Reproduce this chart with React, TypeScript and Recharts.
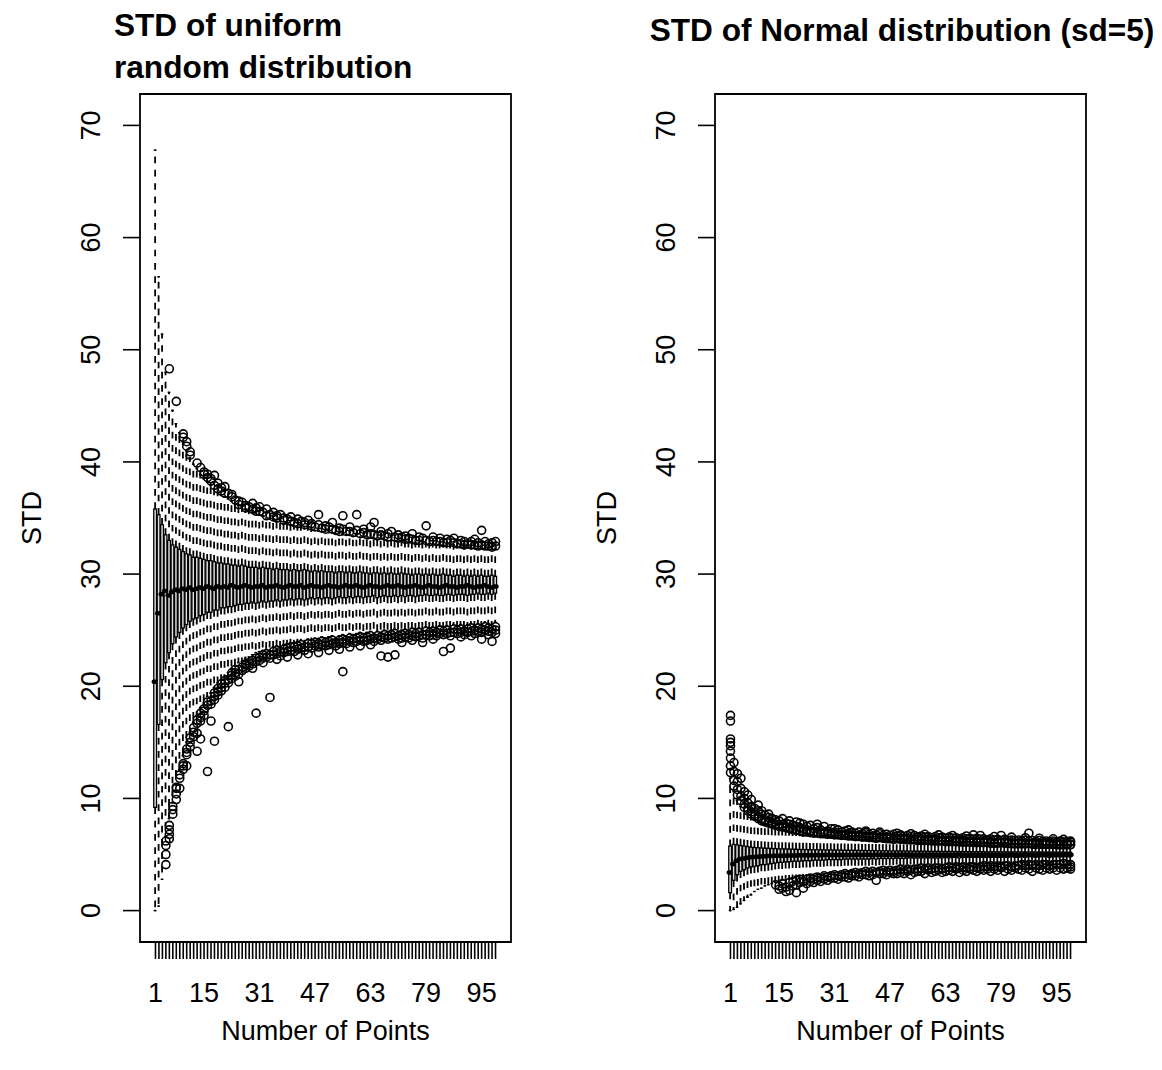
import React from "react";
import { ComposedChart, Bar, Scatter, XAxis, YAxis, ReferenceArea } from "recharts";

const FONT = '"Liberation Sans", Arial, Helvetica, sans-serif';

// Box positions ("Number of Points" categories 1..99)
const positions: number[] = Array.from({ length: 99 }, (_, i) => i + 1);
const xLabels: number[] = [1, 15, 31, 47, 63, 79, 95];
const yTicks: number[] = [0, 10, 20, 30, 40, 50, 60, 70];

// ---------- Uniform panel ----------
const uniLo: number[] = [
  0.0, 0.4, 2.8, 6.6, 8.2, 9.6, 11.2, 12.6, 13.8, 15.0,
  15.9, 16.8, 17.4, 18.1, 18.5, 19.1, 19.4, 19.9, 20.3, 20.6,
  20.9, 21.2, 21.6, 21.8, 22.1, 22.2, 22.5, 22.6, 22.8, 23.0,
  23.1, 23.2, 23.3, 23.2, 23.5, 23.6, 23.5, 23.7, 23.8, 23.9,
  23.9, 24.0, 24.1, 23.9, 24.2, 24.1, 24.3, 24.2, 24.4, 24.3,
  24.4, 24.5, 24.3, 24.5, 24.6, 24.5, 24.7, 24.6, 24.7, 24.8,
  24.7, 24.8, 24.9, 24.7, 24.9, 24.8, 25.0, 24.9, 25.0, 25.1,
  24.9, 25.0, 25.1, 25.0, 25.2, 25.1, 25.2, 25.0, 25.3, 25.2,
  25.3, 25.2, 25.4, 25.3, 25.4, 25.2, 25.5, 25.4, 25.5, 25.3,
  25.5, 25.6, 25.4, 25.6, 25.5, 25.7, 25.6, 25.5, 25.7,
];
const uniQ1: number[] = [
  9.2, 16.6, 20.6, 22.1, 23.0, 23.8, 24.4, 24.8, 25.2, 25.5,
  25.8, 26.0, 26.1, 26.3, 26.4, 26.6, 26.6, 26.8, 26.8, 27.0,
  27.0, 27.1, 27.1, 27.2, 27.3, 27.3, 27.4, 27.4, 27.5, 27.4,
  27.5, 27.6, 27.5, 27.6, 27.6, 27.7, 27.6, 27.7, 27.7, 27.8,
  27.7, 27.8, 27.8, 27.7, 27.8, 27.9, 27.8, 27.9, 27.8, 27.9,
  27.9, 27.8, 27.9, 28.0, 27.9, 27.9, 28.0, 27.9, 28.0, 28.0,
  27.9, 28.0, 28.0, 28.1, 27.9, 28.0, 28.1, 28.0, 28.0, 28.1,
  28.0, 28.1, 28.0, 28.1, 28.1, 28.0, 28.1, 28.1, 28.2, 28.1,
  28.1, 28.2, 28.1, 28.1, 28.2, 28.2, 28.1, 28.2, 28.2, 28.2,
  28.1, 28.2, 28.2, 28.3, 28.2, 28.2, 28.3, 28.2, 28.3,
];
const uniMed: number[] = [
  20.4, 26.5, 28.2, 28.5, 28.1, 28.4, 28.6, 28.5, 28.7, 28.6,
  28.8, 28.6, 28.7, 28.8, 28.7, 28.9, 28.8, 28.7, 28.9, 28.8,
  28.9, 28.8, 29.0, 28.9, 28.8, 28.9, 29.0, 28.9, 28.8, 28.9,
  28.9, 29.0, 28.8, 28.9, 28.9, 29.0, 28.9, 28.8, 28.9, 29.0,
  28.9, 28.9, 29.0, 28.8, 28.9, 29.0, 28.9, 28.9, 28.8, 28.9,
  29.0, 28.9, 28.9, 28.8, 28.9, 29.0, 28.9, 28.9, 29.0, 28.9,
  28.8, 28.9, 29.0, 28.9, 28.9, 28.8, 28.9, 29.0, 28.9, 28.9,
  29.0, 28.9, 28.8, 28.9, 28.9, 29.0, 28.9, 28.8, 28.9, 29.0,
  28.9, 28.9, 28.8, 28.9, 29.0, 28.9, 28.9, 28.8, 28.9, 28.9,
  29.0, 28.9, 28.8, 28.9, 28.9, 29.0, 28.9, 28.8, 28.9,
];
const uniQ3: number[] = [
  35.8, 35.3, 34.4, 33.5, 33.0, 32.6, 32.4, 32.2, 32.0, 31.8,
  31.7, 31.5, 31.5, 31.4, 31.3, 31.2, 31.2, 31.1, 31.0, 31.0,
  30.9, 30.9, 30.8, 30.8, 30.7, 30.8, 30.7, 30.6, 30.6, 30.6,
  30.5, 30.6, 30.5, 30.5, 30.4, 30.5, 30.4, 30.4, 30.4, 30.3,
  30.4, 30.3, 30.3, 30.4, 30.3, 30.2, 30.3, 30.2, 30.3, 30.2,
  30.2, 30.2, 30.1, 30.2, 30.2, 30.1, 30.2, 30.1, 30.1, 30.2,
  30.1, 30.1, 30.0, 30.1, 30.1, 30.0, 30.1, 30.0, 30.1, 30.0,
  30.0, 30.1, 30.0, 30.0, 29.9, 30.0, 30.0, 29.9, 30.0, 29.9,
  30.0, 29.9, 29.9, 30.0, 29.9, 29.9, 29.8, 29.9, 29.9, 29.8,
  29.9, 29.8, 29.9, 29.8, 29.9, 29.8, 29.8, 29.9, 29.8,
];
const uniHi: number[] = [
  67.8, 56.5, 51.4, 48.0, 46.2, 44.6, 43.4, 42.6, 41.8, 41.0,
  40.4, 39.8, 39.4, 38.9, 38.5, 38.2, 37.9, 37.6, 37.3, 37.1,
  36.9, 36.7, 36.5, 36.3, 36.1, 36.0, 35.8, 35.6, 35.5, 35.4,
  35.3, 35.2, 35.0, 34.9, 34.9, 34.7, 34.7, 34.5, 34.5, 34.4,
  34.3, 34.3, 34.2, 34.1, 34.1, 34.0, 33.9, 33.9, 33.8, 33.8,
  33.7, 33.7, 33.6, 33.6, 33.5, 33.5, 33.5, 33.4, 33.4, 33.3,
  33.3, 33.3, 33.2, 33.2, 33.1, 33.2, 33.1, 33.0, 33.0, 33.0,
  32.9, 33.0, 32.9, 32.8, 32.9, 32.8, 32.8, 32.7, 32.8, 32.7,
  32.7, 32.6, 32.7, 32.6, 32.6, 32.5, 32.6, 32.5, 32.5, 32.4,
  32.5, 32.4, 32.4, 32.3, 32.4, 32.3, 32.3, 32.2, 32.3,
];
const uniUpOut: number[][] = [
  [], [], [], [], [48.3], [], [45.4], [], [42.5, 42.2], [41.8, 41.4],
  [40.9, 40.6], [], [39.9], [39.5], [38.9, 39.1], [38.6, 38.9], [38.5, 38.3], [38.8, 37.9], [37.6, 38.1], [37.7, 37.4],
  [37.8, 37.2], [37.2], [36.9, 37.1], [36.6], [36.2, 36.5], [36.4], [35.9, 36.1], [36.0], [35.8, 36.3], [35.9, 35.6],
  [35.6, 36.0], [35.5], [35.2, 35.8], [35.3], [35.1, 35.5], [35.0, 35.2], [35.3], [34.8, 35.0], [34.9], [34.7, 35.1],
  [34.6], [34.5, 34.9], [34.7], [34.4, 34.6], [34.8], [34.3, 34.5], [34.2], [34.4, 35.3], [34.1], [34.0, 34.3],
  [34.2], [34.0, 34.6], [33.9], [34.1, 33.8], [35.2, 34.0], [33.8], [33.8, 34.2], [33.7], [35.3, 33.9], [33.6],
  [33.7, 34.0], [33.5], [33.6, 34.2], [34.6, 33.5], [33.4], [33.5, 33.8], [33.4], [33.3, 33.6], [33.8], [33.3],
  [33.2, 33.5], [33.3], [33.1, 33.4], [33.2], [33.1, 33.6], [33.0], [33.0, 33.3], [33.2], [33.0, 34.3], [32.9],
  [33.0, 33.3], [32.9], [32.9, 33.2], [32.8], [32.8, 33.1], [33.0], [32.8, 33.2], [32.7], [32.7, 33.0], [32.6, 32.9],
  [32.7], [32.6, 32.9], [32.6, 33.1], [32.5, 32.8], [32.6, 33.9], [32.5, 32.9], [32.5, 32.7], [32.4, 32.8], [32.5, 32.9],
];
const uniLoOut: number[][] = [
  [], [], [], [5.8, 5.0, 4.1, 6.2], [6.8, 7.2, 6.4, 7.6], [9.0, 8.6, 9.3], [10.4, 10.9, 9.9, 11.0], [11.8, 12.1, 10.9], [12.9, 13.1, 12.6], [13.9, 14.4, 14.1, 12.9],
  [15.0, 15.4, 14.6], [15.9, 16.3, 15.5], [16.7, 17.0, 15.8, 14.2], [17.2, 17.6, 16.9, 15.3], [17.8, 17.4, 18.0], [18.3, 18.6, 12.4], [18.7, 18.4, 16.9], [19.1, 18.8, 19.4, 15.1], [19.5, 19.8, 19.2], [19.9, 20.2, 19.6],
  [20.3, 20.5, 19.9], [20.6, 20.3, 16.4], [21.0, 20.7, 21.2], [21.2, 20.9, 21.5], [21.5, 21.1, 20.4], [21.7, 21.4], [22.0, 21.6, 21.9], [22.1, 21.8], [22.3, 22.0, 21.6], [22.5, 22.2, 17.6],
  [22.6, 22.3], [22.8, 22.5, 22.1], [22.9, 22.6], [22.8, 19.0, 22.5], [23.1, 22.8], [23.2, 22.9, 22.4], [23.1, 22.7], [23.3, 23.0], [23.4, 23.1, 22.6], [23.5, 23.2],
  [23.5, 23.1], [23.6, 23.3, 22.8], [23.7, 23.4], [23.5, 23.2], [23.8, 23.5, 22.9], [23.8, 23.4], [23.9, 23.6], [23.8, 23.5, 23.0], [24.0, 23.7], [23.9, 23.6],
  [24.0, 23.7, 23.2], [24.1, 23.8], [23.9, 23.6], [24.1, 23.8, 23.3], [24.2, 21.3, 23.9], [24.1, 23.8], [24.3, 24.0, 23.5], [24.2, 23.9], [24.3, 24.0], [24.4, 24.1, 23.6],
  [24.3, 24.0], [24.4, 24.1], [24.5, 24.2, 23.7], [24.3, 24.0], [24.5, 24.2], [24.4, 24.1, 22.7], [24.6, 24.3], [24.5, 24.2, 22.6], [24.6, 24.3], [24.7, 24.4, 22.8],
  [24.5, 24.2], [24.6, 24.3, 23.9], [24.7, 24.4], [24.6, 24.3], [24.8, 24.5, 24.1], [24.7, 24.4], [24.8, 24.5], [24.6, 24.3, 23.9], [24.9, 24.6], [24.8, 24.5],
  [24.9, 24.6, 24.2], [24.8, 24.5], [25.0, 24.7], [24.9, 24.6, 23.1], [25.0, 24.7], [24.8, 24.5, 23.4], [25.1, 24.8], [25.0, 24.7], [25.1, 24.8, 24.4], [24.9, 24.6],
  [25.1, 24.8], [25.2, 24.9, 24.5], [25.0, 24.7], [25.2, 24.9], [25.1, 24.8, 24.2], [25.3, 25.0], [25.2, 24.9, 24.6], [25.1, 24.8, 24.0], [25.3, 25.0, 24.7],
];

// ---------- Normal (sd=5) panel ----------
const normLo: number[] = [
  0.0, 0.1, 0.3, 0.6, 0.9, 1.2, 1.4, 1.7, 1.9, 2.0,
  2.2, 2.3, 2.4, 2.5, 2.6, 2.7, 2.7, 2.8, 2.9, 2.9,
  3.0, 3.0, 3.1, 3.1, 3.1, 3.2, 3.2, 3.3, 3.3, 3.3,
  3.4, 3.4, 3.4, 3.4, 3.5, 3.5, 3.5, 3.5, 3.6, 3.6,
  3.6, 3.6, 3.6, 3.7, 3.7, 3.7, 3.7, 3.7, 3.8, 3.8,
  3.8, 3.8, 3.8, 3.8, 3.8, 3.9, 3.9, 3.9, 3.9, 3.9,
  3.9, 3.9, 3.9, 4.0, 3.9, 4.0, 4.0, 4.0, 4.0, 4.0,
  4.0, 4.0, 4.0, 4.1, 4.0, 4.1, 4.1, 4.1, 4.1, 4.1,
  4.1, 4.1, 4.1, 4.1, 4.2, 4.1, 4.2, 4.1, 4.2, 4.2,
  4.2, 4.2, 4.2, 4.2, 4.2, 4.2, 4.3, 4.2, 4.2,
];
const normQ1: number[] = [
  1.6, 2.7, 3.2, 3.5, 3.65, 3.8, 3.9, 3.95, 4.0, 4.1,
  4.1, 4.15, 4.2, 4.25, 4.3, 4.3, 4.35, 4.35, 4.4, 4.4,
  4.4, 4.45, 4.45, 4.45, 4.5, 4.5, 4.5, 4.5, 4.55, 4.55,
  4.55, 4.55, 4.55, 4.6, 4.6, 4.6, 4.6, 4.6, 4.6, 4.6,
  4.6, 4.65, 4.6, 4.65, 4.65, 4.65, 4.65, 4.65, 4.7, 4.65,
  4.65, 4.7, 4.7, 4.7, 4.7, 4.7, 4.7, 4.7, 4.7, 4.7,
  4.7, 4.7, 4.75, 4.7, 4.75, 4.75, 4.7, 4.75, 4.75, 4.75,
  4.75, 4.75, 4.75, 4.75, 4.75, 4.75, 4.75, 4.75, 4.75, 4.75,
  4.75, 4.8, 4.75, 4.75, 4.8, 4.75, 4.8, 4.8, 4.75, 4.8,
  4.8, 4.8, 4.75, 4.8, 4.8, 4.8, 4.8, 4.8, 4.8,
];
const normMed: number[] = [
  3.4, 4.15, 4.45, 4.6, 4.65, 4.7, 4.75, 4.78, 4.8, 4.83,
  4.84, 4.86, 4.87, 4.88, 4.88, 4.9, 4.9, 4.91, 4.92, 4.92,
  4.93, 4.93, 4.94, 4.94, 4.94, 4.95, 4.94, 4.95, 4.95, 4.95,
  4.95, 4.96, 4.96, 4.95, 4.96, 4.96, 4.96, 4.97, 4.96, 4.97,
  4.97, 4.96, 4.97, 4.97, 4.97, 4.97, 4.98, 4.97, 4.97, 4.98,
  4.97, 4.98, 4.98, 4.97, 4.98, 4.98, 4.97, 4.98, 4.98, 4.98,
  4.97, 4.98, 4.98, 4.98, 4.97, 4.98, 4.99, 4.98, 4.98, 4.98,
  4.98, 4.97, 4.98, 4.98, 4.99, 4.98, 4.98, 4.98, 4.97, 4.98,
  4.98, 4.99, 4.98, 4.98, 4.98, 4.99, 4.98, 4.98, 4.98, 4.99,
  4.98, 4.98, 4.99, 4.98, 4.98, 4.99, 4.98, 4.98, 4.98,
];
const normQ3: number[] = [
  5.75, 5.9, 5.85, 5.8, 5.75, 5.7, 5.65, 5.62, 5.6, 5.58,
  5.56, 5.55, 5.53, 5.52, 5.5, 5.5, 5.49, 5.48, 5.47, 5.46,
  5.45, 5.44, 5.44, 5.43, 5.42, 5.42, 5.41, 5.41, 5.4, 5.4,
  5.39, 5.39, 5.38, 5.38, 5.37, 5.37, 5.36, 5.36, 5.35, 5.35,
  5.35, 5.34, 5.34, 5.33, 5.33, 5.33, 5.32, 5.32, 5.31, 5.31,
  5.31, 5.3, 5.3, 5.3, 5.29, 5.29, 5.29, 5.28, 5.28, 5.28,
  5.28, 5.27, 5.27, 5.27, 5.27, 5.26, 5.26, 5.26, 5.26, 5.25,
  5.25, 5.25, 5.25, 5.25, 5.24, 5.24, 5.24, 5.24, 5.24, 5.23,
  5.23, 5.23, 5.23, 5.23, 5.23, 5.22, 5.22, 5.22, 5.22, 5.22,
  5.22, 5.21, 5.21, 5.21, 5.21, 5.21, 5.21, 5.2, 5.2,
];
const normHi: number[] = [
  11.8, 10.6, 9.8, 9.3, 8.9, 8.6, 8.3, 8.1, 7.9, 7.8,
  7.7, 7.6, 7.5, 7.4, 7.3, 7.25, 7.2, 7.1, 7.05, 7.0,
  6.95, 6.9, 6.9, 6.85, 6.8, 6.8, 6.75, 6.75, 6.7, 6.7,
  6.65, 6.65, 6.6, 6.6, 6.55, 6.55, 6.5, 6.5, 6.5, 6.45,
  6.45, 6.4, 6.4, 6.4, 6.35, 6.35, 6.35, 6.3, 6.3, 6.3,
  6.3, 6.25, 6.25, 6.25, 6.2, 6.2, 6.2, 6.2, 6.15, 6.15,
  6.15, 6.15, 6.1, 6.1, 6.1, 6.1, 6.05, 6.05, 6.05, 6.05,
  6.0, 6.0, 6.0, 6.0, 6.0, 5.95, 5.95, 5.95, 5.95, 5.95,
  5.95, 5.9, 5.9, 5.9, 5.9, 5.9, 5.9, 5.85, 5.85, 5.85,
  5.85, 5.85, 5.85, 5.85, 5.8, 5.8, 5.8, 5.8, 5.8,
];
const normUpOut: number[][] = [
  [17.4, 16.9, 15.3, 15.0, 14.7, 14.2, 13.6, 12.9, 12.3], [13.2, 12.4, 11.6, 11.1], [12.2, 11.5, 10.8, 10.3], [11.8, 10.9, 10.2, 9.8], [10.6, 10.0, 9.5, 9.2],
  [10.3, 9.6, 9.1, 8.9], [9.9, 9.3, 8.8, 8.6], [9.1, 8.6, 8.4], [8.9, 8.4, 8.2, 9.4], [8.6, 8.2, 8.0, 8.9],
  [8.5, 8.1, 7.9], [8.6, 8.0, 7.8, 8.3], [8.2, 7.8, 7.7], [8.1, 7.7, 7.6, 7.9], [8.0, 7.6, 7.5],
  [8.2, 7.7, 7.45, 7.5], [7.8, 7.5, 7.4], [7.7, 7.4, 7.3, 8.0], [7.6, 7.3, 7.2], [7.9, 7.5, 7.2, 7.15],
  [7.4, 7.1, 7.8], [7.7, 7.3, 7.05, 7.0], [7.5, 7.2, 7.0], [7.6, 7.1, 6.95], [7.3, 7.0, 6.9],
  [7.4, 7.0, 6.9, 7.7], [7.2, 6.95, 6.85], [7.5, 7.0, 6.85], [7.1, 6.9, 6.8], [7.3, 6.95, 6.8],
  [7.0, 6.8, 6.75, 7.3], [7.2, 6.85, 6.75], [7.0, 6.75, 6.7], [7.1, 6.8, 6.7], [6.9, 6.7, 6.65, 7.2],
  [7.0, 6.75, 6.65], [6.9, 6.6, 6.6], [7.0, 6.7, 6.6], [6.85, 6.6, 6.55], [6.95, 6.65, 6.55, 7.1],
  [6.8, 6.6, 6.5], [6.9, 6.6, 6.5], [6.75, 6.5, 6.45], [6.85, 6.55, 6.5, 7.0], [6.7, 6.5, 6.45],
  [6.8, 6.55, 6.4], [6.7, 6.45, 6.4], [6.8, 6.5, 6.35], [6.65, 6.45, 6.4, 6.9], [6.75, 6.45, 6.35],
  [6.6, 6.4, 6.35], [6.7, 6.45, 6.3], [6.6, 6.35, 6.3, 6.85], [6.7, 6.4, 6.3], [6.55, 6.35, 6.25],
  [6.65, 6.4, 6.25], [6.55, 6.3, 6.25, 6.8], [6.6, 6.35, 6.25], [6.5, 6.3, 6.2], [6.6, 6.35, 6.2],
  [6.5, 6.25, 6.2, 6.75], [6.55, 6.3, 6.2], [6.45, 6.25, 6.15], [6.55, 6.3, 6.15], [6.45, 6.2, 6.15, 6.7],
  [6.5, 6.25, 6.15], [6.4, 6.2, 6.1], [6.5, 6.25, 6.1], [6.4, 6.15, 6.1, 6.65], [6.45, 6.2, 6.1],
  [6.35, 6.15, 6.05, 6.75], [6.45, 6.2, 6.05], [6.35, 6.1, 6.05, 6.7], [6.4, 6.15, 6.05], [6.3, 6.1, 6.05],
  [6.4, 6.15, 6.0], [6.3, 6.05, 6.0, 6.6], [6.35, 6.1, 6.0], [6.7, 6.25, 6.05], [6.35, 6.1, 6.0],
  [6.25, 6.05, 6.0], [6.3, 6.05, 5.95, 6.55], [6.25, 6.0, 5.95], [6.3, 6.05, 5.95], [6.2, 6.0, 5.95],
  [6.3, 6.05, 5.95, 6.5], [6.9, 6.2, 6.0], [6.25, 6.0, 5.9], [6.15, 5.95, 5.9], [6.25, 6.0, 5.9, 6.45],
  [6.15, 5.95, 5.9], [6.2, 6.0, 5.9], [6.15, 5.95, 5.9], [6.2, 6.0, 5.9, 6.4], [6.1, 5.9, 5.85],
  [6.2, 5.95, 5.85], [6.1, 5.9, 5.85, 6.35], [6.15, 5.95, 5.85], [6.1, 5.9, 5.85, 6.2],
];
const normLoOut: number[][] = [
  [], [], [], [], [], [], [], [], [], [],
  [], [], [], [2.3], [2.2, 1.9], [2.4, 2.0], [2.1, 1.7], [2.5, 1.8], [2.6, 2.2], [2.7, 2.3, 1.6],
  [2.8, 2.5], [2.6, 2.0], [2.8, 2.4], [2.9, 2.6], [2.8, 2.5], [3.0, 2.7], [2.9, 2.6], [3.1, 2.8], [3.0, 2.7], [3.1, 2.9],
  [3.2, 2.9], [3.1, 2.8], [3.2, 3.0], [3.3, 3.0], [3.2, 2.9], [3.3, 3.1], [3.4, 3.1], [3.3, 3.0], [3.4, 3.2], [3.5, 3.2],
  [3.4, 3.1], [3.5, 3.2], [3.4, 2.7], [3.5, 3.3], [3.6, 3.3], [3.5, 3.2], [3.6, 3.4], [3.5, 3.3], [3.6, 3.3], [3.7, 3.4],
  [3.6, 3.3], [3.7, 3.5], [3.6, 3.2], [3.7, 3.4], [3.7, 3.5], [3.8, 3.5], [3.7, 3.3], [3.8, 3.6], [3.7, 3.4], [3.8, 3.5],
  [3.8, 3.6], [3.7, 3.4], [3.8, 3.5], [3.9, 3.6], [3.8, 3.5], [3.9, 3.7], [3.8, 3.4], [3.9, 3.6], [3.8, 3.5], [3.9, 3.7],
  [3.9, 3.6], [3.8, 3.5], [3.9, 3.7], [4.0, 3.6], [3.9, 3.7], [4.0, 3.5], [3.9, 3.7], [4.0, 3.6], [3.9, 3.8], [4.0, 3.5],
  [4.0, 3.7], [3.9, 3.6], [4.0, 3.8], [4.0, 3.7], [4.1, 3.6], [4.0, 3.8], [4.1, 3.7], [4.0, 3.5], [4.1, 3.8], [4.0, 3.7],
  [4.1, 3.6], [4.1, 3.8], [4.0, 3.7], [4.1, 3.8], [4.1, 3.6], [4.1, 3.8], [4.2, 3.7], [4.1, 3.8], [4.1, 3.9, 3.7],
];

// ---------- helpers ----------
type BoxRow = { pos: number; range: [number, number]; lo: number; q1: number; med: number; q3: number; hi: number };

function buildBoxes(lo: number[], q1: number[], med: number[], q3: number[], hi: number[]): BoxRow[] {
  return positions.map((p, i) => ({ pos: p, range: [lo[i], hi[i]], lo: lo[i], q1: q1[i], med: med[i], q3: q3[i], hi: hi[i] }));
}
function buildOutliers(up: number[][], dn: number[][]) {
  const out: { pos: number; v: number }[] = [];
  up.forEach((vals, i) => vals.forEach((v) => out.push({ pos: positions[i], v })));
  dn.forEach((vals, i) => vals.forEach((v) => out.push({ pos: positions[i], v })));
  return out;
}

const uniBoxes = buildBoxes(uniLo, uniQ1, uniMed, uniQ3, uniHi);
const uniOut = buildOutliers(uniUpOut, uniLoOut);
const normBoxes = buildBoxes(normLo, normQ1, normMed, normQ3, normHi);
const normOut = buildOutliers(normUpOut, normLoOut);

const X_DOMAIN: [number, number] = [-3.46, 103.46];
const Y_DOMAIN: [number, number] = [-2.8, 72.8];

const BoxShape = (props: any) => {
  const { x, y, width, height, payload } = props;
  if (x == null || y == null || !payload) return <g />;
  const { lo, q1, med, q3, hi } = payload as BoxRow;
  const top = Math.min(y, y + height);
  const bot = Math.max(y, y + height);
  const py = (v: number) => (hi === lo ? bot : bot - ((bot - top) * (v - lo)) / (hi - lo));
  const cx = x + width / 2;
  const st = width / 4;
  return (
    <g>
      <line x1={cx} x2={cx} y1={py(q3)} y2={py(hi)} stroke="#000" strokeWidth={1.8} strokeDasharray="6.7 6.6" />
      <line x1={cx} x2={cx} y1={py(q1)} y2={py(lo)} stroke="#000" strokeWidth={1.8} strokeDasharray="6.7 6.6" />
      <line x1={cx - st} x2={cx + st} y1={py(hi)} y2={py(hi)} stroke="#000" strokeWidth={1.6} strokeLinecap="round" />
      <line x1={cx - st} x2={cx + st} y1={py(lo)} y2={py(lo)} stroke="#000" strokeWidth={1.6} strokeLinecap="round" />
      <rect x={x} y={py(q3)} width={width} height={Math.max(0, py(q1) - py(q3))} fill="#e0e0e0" stroke="#000" strokeWidth={1.3} />
      <line x1={x} x2={x + width} y1={py(med)} y2={py(med)} stroke="#000" strokeWidth={4.5} strokeLinecap="round" />
    </g>
  );
};

const OutlierShape = (props: any) => {
  const { cx, cy } = props;
  if (cx == null || cy == null) return <g />;
  return <circle cx={cx} cy={cy} r={4} fill="none" stroke="#000" strokeWidth={1.6} />;
};

const XTick = (props: any) => {
  const { x, y, payload } = props;
  if (!xLabels.includes(payload.value)) return <g />;
  return (
    <text x={x} y={y + 43} textAnchor="middle" fontFamily={FONT} fontSize={27} fill="#000">
      {payload.value}
    </text>
  );
};

const YTick = (props: any) => {
  const { x, y, payload } = props;
  return (
    <text transform={`translate(${x - 23},${y}) rotate(-90)`} textAnchor="middle" fontFamily={FONT} fontSize={27} fill="#000">
      {payload.value}
    </text>
  );
};

const Panel = ({ boxes, outliers, left }: { boxes: BoxRow[]; outliers: { pos: number; v: number }[]; left: number }) => (
  <div style={{ position: "absolute", left, top: 0 }}>
    <ComposedChart width={560} height={1070} data={boxes} margin={{ top: 94, right: 49, bottom: 68, left: 80 }}>
      <XAxis
        type="number"
        dataKey="pos"
        domain={X_DOMAIN}
        ticks={positions}
        interval={0}
        tickSize={17}
        tickMargin={0}
        height={60}
        axisLine={false}
        tickLine={{ stroke: "#000", strokeWidth: 1.6 }}
        tick={<XTick />}
        allowDataOverflow
      />
      <YAxis
        type="number"
        domain={Y_DOMAIN}
        ticks={yTicks}
        interval={0}
        tickSize={17}
        tickMargin={0}
        width={60}
        axisLine={false}
        tickLine={{ stroke: "#000", strokeWidth: 1.6 }}
        tick={<YTick />}
        allowDataOverflow
      />
      <Bar dataKey="range" barSize={2.78} shape={<BoxShape />} isAnimationActive={false} />
      <Scatter data={outliers} dataKey="v" shape={<OutlierShape />} isAnimationActive={false} />
      <ReferenceArea x1={X_DOMAIN[0]} x2={X_DOMAIN[1]} y1={Y_DOMAIN[0]} y2={Y_DOMAIN[1]} fill="none" fillOpacity={0} stroke="#000" strokeWidth={1.8} ifOverflow="visible" />
    </ComposedChart>
  </div>
);

export default function App() {
  return (
    <div style={{ position: "absolute", left: 0, top: 0, width: 1162, height: 1070, background: "#fff" }}>
      <Panel boxes={uniBoxes} outliers={uniOut} left={0} />
      <Panel boxes={normBoxes} outliers={normOut} left={575} />
      <svg width={1162} height={1070} style={{ position: "absolute", left: 0, top: 0, pointerEvents: "none" }}>
        <g fontFamily={FONT} fill="#000">
          <text x={114} y={36} fontSize={31.6} fontWeight="bold">STD of uniform</text>
          <text x={114} y={78} fontSize={31.6} fontWeight="bold">random distribution</text>
          <text x={902} y={41} fontSize={31.6} fontWeight="bold" textAnchor="middle">STD of Normal distribution (sd=5)</text>
          <text x={325.5} y={1040} fontSize={27} textAnchor="middle">Number of Points</text>
          <text x={900.5} y={1040} fontSize={27} textAnchor="middle">Number of Points</text>
          <text transform="translate(41,518) rotate(-90)" fontSize={27} textAnchor="middle">STD</text>
          <text transform="translate(616,518) rotate(-90)" fontSize={27} textAnchor="middle">STD</text>
        </g>
      </svg>
    </div>
  );
}
